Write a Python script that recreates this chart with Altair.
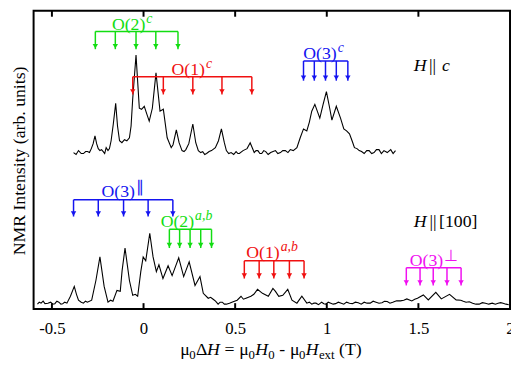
import altair as alt
import pandas as pd

# ---------------- data ----------------
# (field in T, intensity in arb. units) of the H || c spectrum
top_points = [
    (-0.382, 159), (-0.368, 157), (-0.355, 161), (-0.340, 158), (-0.328, 158), (-0.316, 160), (-0.306, 160),
    (-0.295, 159), (-0.285, 163), (-0.275, 168), (-0.265, 176), (-0.256, 168), (-0.247, 163), (-0.238, 161),
    (-0.229, 162), (-0.220, 160), (-0.212, 158), (-0.204, 164), (-0.194, 161), (-0.186, 163), (-0.177, 171),
    (-0.165, 188), (-0.152, 209), (-0.142, 186), (-0.131, 171), (-0.118, 169), (-0.104, 172), (-0.091, 171),
    (-0.077, 174), (-0.068, 186), (-0.059, 214), (-0.041, 258), (-0.023, 204), (-0.011, 203), (0.004, 206),
    (0.018, 198), (0.031, 191), (0.048, 204), (0.068, 240), (0.090, 201), (0.108, 203), (0.129, 174),
    (0.151, 164), (0.161, 167), (0.179, 182), (0.194, 169), (0.210, 161), (0.221, 160), (0.231, 162),
    (0.247, 168), (0.269, 188), (0.285, 169), (0.299, 161), (0.312, 159), (0.323, 160), (0.334, 157),
    (0.344, 158), (0.358, 160), (0.371, 161), (0.392, 164), (0.409, 171), (0.425, 183), (0.441, 169),
    (0.452, 161), (0.465, 158), (0.478, 159), (0.492, 157), (0.505, 160), (0.515, 158), (0.523, 158),
    (0.543, 161), (0.565, 163), (0.582, 169), (0.604, 159), (0.614, 161), (0.624, 161), (0.635, 158),
    (0.645, 158), (0.656, 161), (0.667, 160), (0.680, 157), (0.694, 159), (0.707, 160), (0.720, 161),
    (0.733, 158), (0.747, 159), (0.760, 161), (0.774, 161), (0.788, 159), (0.801, 162), (0.817, 161),
    (0.837, 164), (0.855, 174), (0.873, 183), (0.891, 181), (0.905, 190), (0.918, 201), (0.935, 208),
    (0.962, 194), (0.980, 208), (0.998, 221), (1.016, 204), (1.028, 192), (1.052, 206), (1.075, 194),
    (1.093, 183), (1.108, 181), (1.124, 178), (1.140, 170), (1.151, 164), (1.165, 163), (1.177, 161),
    (1.190, 160), (1.204, 158), (1.218, 161), (1.231, 161), (1.245, 158), (1.258, 159), (1.271, 162),
    (1.285, 162), (1.298, 158), (1.312, 161), (1.330, 159), (1.349, 162), (1.362, 158), (1.375, 161),
]
# (field in T, intensity in arb. units) of the H || [100] spectrum
bottom_points = [
    (-0.579, 5), (-0.569, 7), (-0.559, 6), (-0.548, 8), (-0.538, 5.5), (-0.522, 6), (-0.507, 7), (-0.495, 5),
    (-0.484, 5.5), (-0.473, 8), (-0.462, 7), (-0.451, 5), (-0.441, 5.5), (-0.430, 7), (-0.418, 6),
    (-0.399, 13), (-0.378, 23), (-0.366, 15), (-0.355, 9), (-0.340, 7), (-0.328, 6), (-0.317, 8),
    (-0.306, 7), (-0.283, 9), (-0.260, 29), (-0.238, 53), (-0.215, 23), (-0.194, 7), (-0.180, 9),
    (-0.167, 8), (-0.145, 19), (-0.127, 18), (-0.117, 39), (-0.101, 62), (-0.077, 29), (-0.059, 14),
    (-0.045, 15), (-0.032, 13), (-0.015, 38), (-0.002, 53), (0.012, 49), (0.034, 77), (0.052, 53),
    (0.070, 38), (0.084, 45), (0.106, 31), (0.134, 44), (0.156, 34), (0.192, 52), (0.219, 33), (0.249, 48),
    (0.281, 24), (0.308, 33), (0.326, 16), (0.353, 11), (0.366, 12), (0.380, 10), (0.393, 8), (0.407, 5),
    (0.418, 7), (0.430, 7), (0.441, 5), (0.452, 5), (0.469, 6), (0.489, 7.5), (0.511, 9), (0.532, 13),
    (0.545, 10), (0.559, 11), (0.586, 13), (0.602, 15), (0.622, 20), (0.649, 16), (0.681, 13), (0.706, 21),
    (0.720, 18), (0.738, 13), (0.760, 14), (0.787, 20), (0.810, 9), (0.837, 6), (0.864, 13), (0.891, 6),
    (0.905, 7), (0.918, 5), (0.930, 6), (0.941, 6), (0.955, 4.5), (0.972, 7), (0.984, 5.5), (0.995, 5),
    (1.008, 7), (1.022, 6), (1.035, 5), (1.048, 5.5), (1.063, 7), (1.079, 6), (1.093, 5), (1.108, 7),
    (1.124, 6), (1.140, 5.5), (1.156, 7), (1.172, 6.5), (1.188, 5), (1.204, 7), (1.220, 6), (1.237, 6),
    (1.253, 8), (1.269, 7), (1.285, 6), (1.301, 6.5), (1.315, 8), (1.330, 7.7), (1.345, 6), (1.360, 7),
    (1.381, 8.5), (1.402, 8.3), (1.420, 9), (1.437, 10.3), (1.464, 8.3), (1.480, 10), (1.495, 11),
    (1.527, 14.3), (1.554, 9.3), (1.595, 17), (1.625, 10.3), (1.670, 15), (1.706, 9.3), (1.731, 9),
    (1.745, 8), (1.760, 7), (1.778, 7.5), (1.796, 6), (1.814, 5), (1.832, 5), (1.849, 6.5), (1.866, 6),
    (1.884, 5), (1.903, 6), (1.920, 5), (1.935, 6), (1.949, 6.5), (1.962, 6), (1.978, 5), (1.993, 4.3),
]

x_tick_values = [-0.5, 0, 0.5, 1, 1.5]
x_label_values = [-0.5, 0, 0.5, 1, 1.5, 2]

GREEN, RED, BLUE, MAGENTA = "#12dd12", "#f01010", "#1414f0", "#f010f0"

# site groups: name, superscript, colour, arrow fields, bar level, arrow tip level, label anchor
group_names = ["O(2)", "O(1)", "O(3)", "O(3)", "O(2)", "O(1)", "O(3)"]
group_sups = ["c", "c", "c", "\u2225", "a,b", "a,b", "\u22a5"]
group_sup_italic = [True, True, True, False, True, True, False]
group_colors = [GREEN, RED, BLUE, BLUE, GREEN, RED, MAGENTA]
group_arrows = [
    [-0.263, -0.154, -0.041, 0.067, 0.188],
    [-0.059, 0.108, 0.269, 0.428, 0.591],
    [0.873, 0.932, 0.993, 1.052, 1.115],
    [-0.382, -0.247, -0.109, 0.025, 0.160],
    [0.141, 0.197, 0.254, 0.312, 0.371],
    [0.550, 0.631, 0.711, 0.796, 0.876],
    [1.434, 1.509, 1.581, 1.656, 1.733],
]
group_bar = [282, 236, 252, 111, 81, 49, 42]
group_tip = [264, 218, 232, 94, 62, 31, 24]
label_x = [0.010, 0.335, 1.054, -0.047, 0.276, 0.743, 1.635]
label_y = [284, 238, 254, 114, 83, 52, 44]

# orientation notes
orient_italic_text = ["H", "c", "H"]
orient_italic_x = [1.474, 1.629, 1.474]
orient_italic_y = [242, 242, 83]
orient_plain_text = ["||", "||", "[100]"]
orient_plain_x = [1.558, 1.560, 1.613]
orient_plain_y = [242, 83, 83]

# x-axis title pieces: mu0 DeltaH = mu0 H0 - mu0 Hext (T)
title_plain_text = ["\u03bc", "\u0394", "=", "\u03bc", "-", "\u03bc", "(T)"]
title_plain_x = [0.200, 0.286, 0.442, 0.523, 0.741, 0.799, 1.067]
title_italic_text = ["H", "H", "H"]
title_italic_x = [0.346, 0.609, 0.885]
title_sub_text = ["0", "0", "0", "0", "ext"]
title_sub_x = [0.250, 0.573, 0.681, 0.849, 0.957]
title_y = -47
title_sub_y = -51

# ---------------- build tables ----------------
spec = pd.concat([
    pd.DataFrame(top_points, columns=["x", "y"]).assign(s="c"),
    pd.DataFrame(bottom_points, columns=["x", "y"]).assign(s="100"),
])
bars, stems, labels = [], [], []
for i in range(len(group_names)):
    xs = group_arrows[i]
    bars.append({"x": min(xs), "x2": max(xs), "y": group_bar[i], "c": group_colors[i]})
    for v in xs:
        stems.append({"x": v, "y": group_bar[i], "y2": group_tip[i], "c": group_colors[i]})
    labels.append({"x": label_x[i], "y": label_y[i], "t": group_names[i], "sup": group_sups[i],
                   "it": group_sup_italic[i], "c": group_colors[i]})
bars = pd.DataFrame(bars)
stems = pd.DataFrame(stems)
labels = pd.DataFrame(labels)

xs_ = alt.Scale(domain=[-0.6, 2.0], nice=False, zero=False)
ys_ = alt.Scale(domain=[0, 303], nice=False, zero=False)
FONT = "Liberation Serif"


def X(f="x", **kw):
    return alt.X(f, type="quantitative", scale=xs_, **kw)


def Y(f="y", **kw):
    return alt.Y(f, type="quantitative", scale=ys_, **kw)


x_axis = alt.Axis(values=x_label_values, title=None, grid=False, ticks=False, tickSize=0, domain=False,
                  labelFont=FONT, labelFontSize=17, labelColor="black", labelPadding=25,
                  labelBaseline="alphabetic", labelFlush=False, labelOverlap=False,
                  labelExpr="datum.value < 0 ? '-' + format(-datum.value, '') : format(datum.value, '')")
y_axis = alt.Axis(title="NMR Intensity (arb. units)", labels=False, ticks=False, domain=False, grid=False,
                  titleFont=FONT, titleFontSize=18, titleFontWeight="normal", titleColor="black",
                  titleX=-9.5, titleY=152, titleBaseline="alphabetic", titleAlign="center", titleAngle=270)

lines = alt.Chart(spec).mark_line(color="black", strokeWidth=1.1).encode(
    x=X(axis=x_axis), y=Y(axis=y_axis), detail="s:N")

ticks_df = pd.DataFrame({"x": x_tick_values})
tick_bot = alt.Chart(ticks_df).mark_rule(color="black", strokeWidth=2).encode(
    x=X(), y=alt.value(303), y2=alt.value(297))
tick_top = alt.Chart(ticks_df).mark_rule(color="black", strokeWidth=2).encode(
    x=X(), y=alt.value(0), y2=alt.value(6))

bar_layer = alt.Chart(bars).mark_rule(strokeWidth=1.5).encode(
    x=X(), x2="x2", y=Y(), color=alt.Color("c:N", scale=None))
stem_layer = alt.Chart(stems).mark_rule(strokeWidth=1.5).encode(
    x=X(), y=Y(), y2="y2", color=alt.Color("c:N", scale=None))
head_layer = alt.Chart(stems).mark_point(shape="triangle-down", filled=True, size=30, opacity=1,
                                         yOffset=-3).encode(
    x=X(), y=Y("y2"), color=alt.Color("c:N", scale=None))

lab_main = alt.Chart(labels).mark_text(font=FONT, fontSize=18, align="right", baseline="alphabetic").encode(
    x=X(), y=Y(), text="t:N", color=alt.Color("c:N", scale=None))
lab_sup_it = alt.Chart(labels[labels.it]).mark_text(font=FONT, fontSize=14, fontStyle="italic", align="left",
                                                    baseline="alphabetic", dx=1, dy=-7).encode(
    x=X(), y=Y(), text="sup:N", color=alt.Color("c:N", scale=None))
lab_sup_pl = alt.Chart(labels[~labels.it]).mark_text(font=FONT, fontSize=16, align="left",
                                                     baseline="alphabetic", dx=1, dy=-5).encode(
    x=X(), y=Y(), text="sup:N", color=alt.Color("c:N", scale=None))

o_it = alt.Chart(pd.DataFrame({"x": orient_italic_x, "y": orient_italic_y, "t": orient_italic_text})).mark_text(
    font=FONT, fontSize=18, fontStyle="italic", align="left", baseline="alphabetic", color="black").encode(
    x=X(), y=Y(), text="t:N")
o_pl = alt.Chart(pd.DataFrame({"x": orient_plain_x, "y": orient_plain_y, "t": orient_plain_text})).mark_text(
    font=FONT, fontSize=18, align="left", baseline="alphabetic", color="black").encode(
    x=X(), y=Y(), text="t:N")

t_pl = alt.Chart(pd.DataFrame({"x": title_plain_x, "y": title_y, "t": title_plain_text})).mark_text(
    font=FONT, fontSize=18, align="left", baseline="alphabetic", color="black").encode(
    x=X(), y=Y(), text="t:N")
t_it = alt.Chart(pd.DataFrame({"x": title_italic_x, "y": title_y, "t": title_italic_text})).mark_text(
    font=FONT, fontSize=18, fontStyle="italic", align="left", baseline="alphabetic", color="black").encode(
    x=X(), y=Y(), text="t:N")
t_sub = alt.Chart(pd.DataFrame({"x": title_sub_x, "y": title_sub_y, "t": title_sub_text})).mark_text(
    font=FONT, fontSize=13, align="left", baseline="alphabetic", color="black").encode(
    x=X(), y=Y(), text="t:N")

chart = alt.layer(
    lines, tick_bot, tick_top, bar_layer, stem_layer, head_layer,
    lab_main, lab_sup_it, lab_sup_pl, o_it, o_pl, t_pl, t_it, t_sub,
).properties(
    width=484, height=303,
    padding={"left": 26, "top": 0, "right": 1, "bottom": 56},
    autosize=alt.AutoSizeParams(type="none"),
).configure(
    background="white",
    view=alt.ViewConfig(stroke="black", strokeWidth=2),
)

chart.save("out.html", embed_options={"renderer": "svg", "actions": False})
